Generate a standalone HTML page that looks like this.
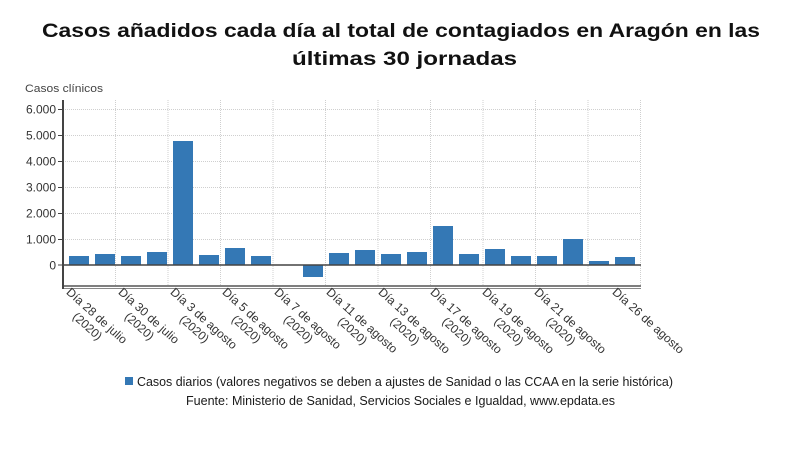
<!DOCTYPE html>
<html><head><meta charset="utf-8">
<style>
html,body{margin:0;padding:0;background:#fff;}
body{width:800px;height:470px;position:relative;overflow:hidden;font-family:"Liberation Sans",sans-serif;}
svg{position:absolute;left:0;top:0;}
.lbl{position:absolute;transform-origin:0 0;transform:rotate(42deg);font-size:12px;line-height:14px;color:#333;text-align:center;white-space:nowrap;}
</style></head><body>
<svg width="800" height="470" viewBox="0 0 800 470" xmlns="http://www.w3.org/2000/svg" font-family="Liberation Sans, sans-serif">
<text x="42" y="37" font-size="19" font-weight="bold" fill="#111" textLength="718" lengthAdjust="spacingAndGlyphs">Casos añadidos cada día al total de contagiados en Aragón en las</text>
<text x="292" y="65" font-size="19" font-weight="bold" fill="#111" textLength="225" lengthAdjust="spacingAndGlyphs">últimas 30 jornadas</text>
<text x="25" y="92" font-size="11" fill="#444" textLength="78" lengthAdjust="spacingAndGlyphs">Casos clínicos</text>
<g stroke="#cfcfcf" stroke-width="1" stroke-dasharray="1,1">
<line x1="63" y1="109.5" x2="641" y2="109.5"/>
<line x1="63" y1="135.5" x2="641" y2="135.5"/>
<line x1="63" y1="161.5" x2="641" y2="161.5"/>
<line x1="63" y1="187.5" x2="641" y2="187.5"/>
<line x1="63" y1="213.5" x2="641" y2="213.5"/>
<line x1="63" y1="239.5" x2="641" y2="239.5"/>
<line x1="115.5" y1="100" x2="115.5" y2="285"/>
<line x1="168" y1="100" x2="168" y2="285"/>
<line x1="220.5" y1="100" x2="220.5" y2="285"/>
<line x1="273" y1="100" x2="273" y2="285"/>
<line x1="325.5" y1="100" x2="325.5" y2="285"/>
<line x1="378" y1="100" x2="378" y2="285"/>
<line x1="430.5" y1="100" x2="430.5" y2="285"/>
<line x1="483" y1="100" x2="483" y2="285"/>
<line x1="535.5" y1="100" x2="535.5" y2="285"/>
<line x1="588" y1="100" x2="588" y2="285"/>
<line x1="640.5" y1="100" x2="640.5" y2="285"/>
</g>
<g font-size="12" fill="#333" text-anchor="end">
<text x="56" y="113.5">6.000</text>
<text x="56" y="139.5">5.000</text>
<text x="56" y="165.5">4.000</text>
<text x="56" y="191.5">3.000</text>
<text x="56" y="217.5">2.000</text>
<text x="56" y="243.5">1.000</text>
<text x="56" y="269.5">0</text>
</g>
<g fill="#3478b5">
<rect x="69" y="256" width="20" height="9"/>
<rect x="95" y="254" width="20" height="11"/>
<rect x="121" y="256" width="20" height="9"/>
<rect x="147" y="252" width="20" height="13"/>
<rect x="173" y="141" width="20" height="124"/>
<rect x="199" y="255" width="20" height="10"/>
<rect x="225" y="248" width="20" height="17"/>
<rect x="251" y="256" width="20" height="9"/>
<rect x="303" y="265" width="20" height="12"/>
<rect x="329" y="253" width="20" height="12"/>
<rect x="355" y="250" width="20" height="15"/>
<rect x="381" y="254" width="20" height="11"/>
<rect x="407" y="252" width="20" height="13"/>
<rect x="433" y="226" width="20" height="39"/>
<rect x="459" y="254" width="20" height="11"/>
<rect x="485" y="249" width="20" height="16"/>
<rect x="511" y="256" width="20" height="9"/>
<rect x="537" y="256" width="20" height="9"/>
<rect x="563" y="239" width="20" height="26"/>
<rect x="589" y="261" width="20" height="4"/>
<rect x="615" y="257" width="20" height="8"/>
</g>
<line x1="63" y1="265" x2="641" y2="265" stroke="#444" stroke-width="1.5"/>
<line x1="63" y1="286" x2="641" y2="286" stroke="#555" stroke-width="1.5"/>
<line x1="63" y1="288.5" x2="641" y2="288.5" stroke="#888" stroke-width="1"/>
<line x1="63" y1="100" x2="63" y2="289" stroke="#444" stroke-width="2"/>
<g stroke="#444" stroke-width="1">
<line x1="58" y1="109.5" x2="63" y2="109.5"/>
<line x1="58" y1="135.5" x2="63" y2="135.5"/>
<line x1="58" y1="161.5" x2="63" y2="161.5"/>
<line x1="58" y1="187.5" x2="63" y2="187.5"/>
<line x1="58" y1="213.5" x2="63" y2="213.5"/>
<line x1="58" y1="239.5" x2="63" y2="239.5"/>
<line x1="58" y1="265" x2="63" y2="265"/>
</g>
<rect x="125" y="377" width="8" height="8" fill="#3478b5"/>
<text x="137" y="386" font-size="12.5" fill="#1a1a1a" textLength="536" lengthAdjust="spacingAndGlyphs">Casos diarios (valores negativos se deben a ajustes de Sanidad o las CCAA en la serie histórica)</text>
<text x="186" y="405" font-size="12.5" fill="#1a1a1a" textLength="429" lengthAdjust="spacingAndGlyphs">Fuente: Ministerio de Sanidad, Servicios Sociales e Igualdad, www.epdata.es</text>
</svg>
<div class="lbl" style="left:73px;top:285px">Día 28 de julio<br>(2020)</div>
<div class="lbl" style="left:125px;top:285px">Día 30 de julio<br>(2020)</div>
<div class="lbl" style="left:177px;top:285px">Día 3 de agosto<br>(2020)</div>
<div class="lbl" style="left:229px;top:285px">Día 5 de agosto<br>(2020)</div>
<div class="lbl" style="left:281px;top:285px">Día 7 de agosto<br>(2020)</div>
<div class="lbl" style="left:333px;top:285px">Día 11 de agosto<br>(2020)</div>
<div class="lbl" style="left:385px;top:285px">Día 13 de agosto<br>(2020)</div>
<div class="lbl" style="left:437px;top:285px">Día 17 de agosto<br>(2020)</div>
<div class="lbl" style="left:489px;top:285px">Día 19 de agosto<br>(2020)</div>
<div class="lbl" style="left:541px;top:285px">Día 21 de agosto<br>(2020)</div>
<div class="lbl" style="left:619px;top:285px">Día 26 de agosto</div>
</body></html>
